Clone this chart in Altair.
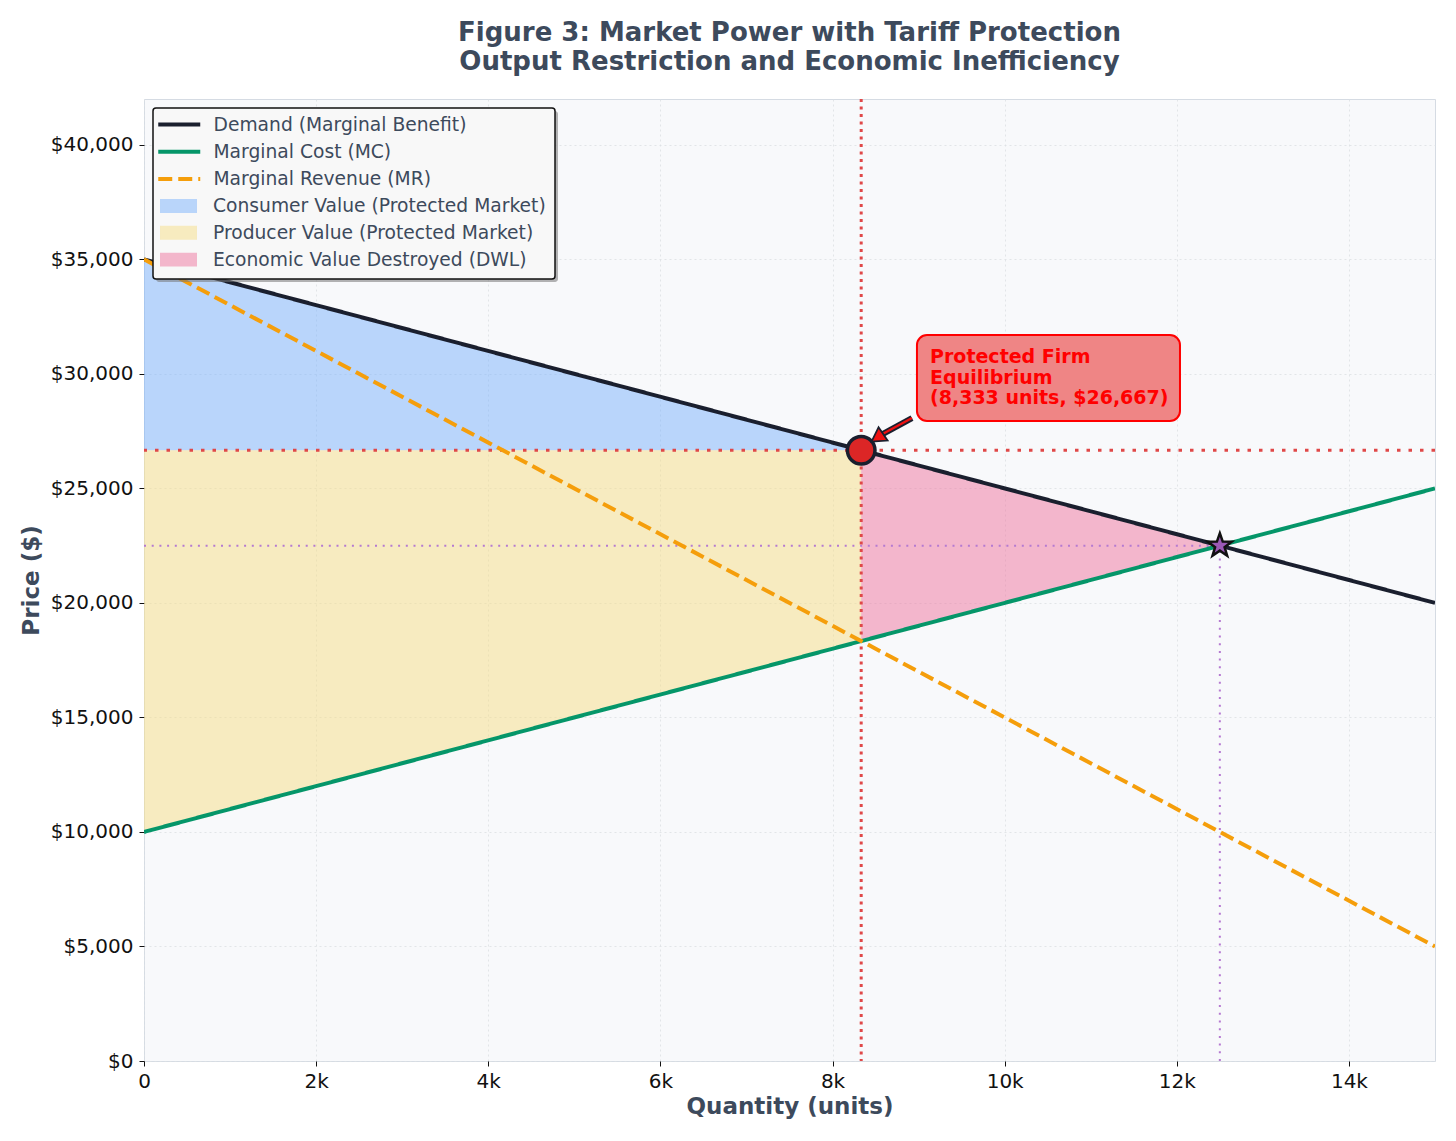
import altair as alt
import pandas as pd

# Linear market model (price in $, quantity in units)
q_ends = [0, 15000]
demand_ends = [35000, 20000]
mc_ends = [10000, 25000]
mr_ends = [35000, 5000]

q_mono, p_mono, mc_at_mono = 8333, 26667, 18333
q_comp, p_comp = 12500, 22500

line_names = ["Demand (Marginal Benefit)", "Marginal Cost (MC)", "Marginal Revenue (MR)"]
line_colors = ["#1a1f2e", "#059669", "#f59e0b"]
line_dashes = [[1, 0], [1, 0], [14, 6]]

area_names = [
    "Consumer Value (Protected Market)",
    "Producer Value (Protected Market)",
    "Economic Value Destroyed (DWL)",
]
area_colors = ["#7ab1fb", "#f6dd85", "#ee739d"]

# Shaded regions: quantity span with upper and lower price bounds
cs_q = [0, q_mono]
cs_top = [35000, p_mono]
cs_bot = [p_mono, p_mono]
ps_q = [0, q_mono]
ps_top = [p_mono, p_mono]
ps_bot = [10000, mc_at_mono]
dwl_q = [q_mono, q_comp]
dwl_top = [p_mono, p_comp]
dwl_bot = [mc_at_mono, p_comp]

x_ticks = [0, 2000, 4000, 6000, 8000, 10000, 12000, 14000]
y_ticks = [0, 5000, 10000, 15000, 20000, 25000, 30000, 35000, 40000]

note_lines = ["Protected Firm", "Equilibrium", "(8,333 units, $26,667)"]

FONT = "DejaVu Sans"
SLATE = "#3d4a5c"
W, H = 1291, 962

STAR = ("M0,-1L0.235,-0.324L0.951,-0.309L0.380,0.124L0.588,0.809L0,0.4"
        "L-0.588,0.809L-0.380,0.124L-0.951,-0.309L-0.235,-0.324Z")

lines_df = pd.DataFrame({
    "q": q_ends * 3,
    "p": demand_ends + mc_ends + mr_ends,
    "series": [line_names[0]] * 2 + [line_names[1]] * 2 + [line_names[2]] * 2,
})

areas_df = pd.DataFrame({
    "q": cs_q + ps_q + dwl_q,
    "top": cs_top + ps_top + dwl_top,
    "bot": cs_bot + ps_bot + dwl_bot,
    "region": [area_names[0]] * 2 + [area_names[1]] * 2 + [area_names[2]] * 2,
})

x_scale = alt.Scale(domain=[0, 15000], nice=False, zero=False)
y_scale = alt.Scale(domain=[0, 42000], nice=False)

x_axis = alt.Axis(
    values=x_ticks,
    labelExpr="datum.value == 0 ? '0' : (datum.value / 1000) + 'k'",
    title="Quantity (units)",
)
y_axis = alt.Axis(values=y_ticks, format="$,.0f", title="Price ($)")

areas = alt.Chart(areas_df).mark_area(opacity=0.5).encode(
    x=alt.X("q:Q", scale=x_scale, axis=x_axis),
    y=alt.Y("top:Q", scale=y_scale, axis=y_axis),
    y2="bot:Q",
    fill=alt.Fill(
        "region:N",
        scale=alt.Scale(domain=area_names, range=area_colors),
        legend=alt.Legend(
            title=None, orient="none", legendX=24, legendY=96.5,
            symbolType="M-1.76,-0.66H1.76V0.66H-1.76Z", symbolSize=441,
            symbolStrokeWidth=0, labelFont=FONT, labelFontSize=18.7,
            labelColor=SLATE, rowPadding=5.8, labelOffset=24, padding=0,
            labelLimit=0,
        ),
    ),
)

one = pd.DataFrame({"k": [0]})

red_v = alt.Chart(pd.DataFrame({"q": [q_mono]})).mark_rule(
    color="#e04848", strokeWidth=3, strokeDash=[3, 4.5]
).encode(x="q:Q")
red_h = alt.Chart(pd.DataFrame({"p": [p_mono]})).mark_rule(
    color="#e04848", strokeWidth=3, strokeDash=[3.5, 8]
).encode(y="p:Q")
purple_h = alt.Chart(pd.DataFrame({"q0": [0], "q1": [q_comp], "p": [p_comp]})).mark_rule(
    color="#b57ad1", strokeWidth=2, strokeDash=[2, 5.7]
).encode(x="q0:Q", x2="q1:Q", y="p:Q")
purple_v = alt.Chart(pd.DataFrame({"q": [q_comp], "p0": [0], "p1": [p_comp]})).mark_rule(
    color="#b57ad1", strokeWidth=2, strokeDash=[2, 5.7]
).encode(x="q:Q", y="p0:Q", y2="p1:Q")

line_legend = alt.Legend(
    title=None, orient="none", legendX=22.75, legendY=13,
    symbolType="M-2,0H2", symbolSize=441, symbolStrokeWidth=4,
    labelFont=FONT, labelFontSize=18.7, labelColor=SLATE,
    rowPadding=4.3, labelOffset=21.75, padding=0, labelLimit=0,
)

lines = alt.Chart(lines_df).mark_line(strokeWidth=4, clip=True).encode(
    x="q:Q",
    y="p:Q",
    stroke=alt.Stroke(
        "series:N",
        scale=alt.Scale(domain=line_names, range=line_colors),
        legend=line_legend,
    ),
    strokeDash=alt.StrokeDash(
        "series:N",
        scale=alt.Scale(domain=line_names, range=line_dashes),
        legend=line_legend,
    ),
    detail="series:N",
)

mono_pt = alt.Chart(pd.DataFrame({"q": [q_mono], "p": [p_mono]})).mark_point(
    shape="circle", size=760, filled=True, fill="#dc2626", stroke="#1a1f2e",
    strokeWidth=3.5, opacity=1,
).encode(x="q:Q", y="p:Q")

comp_pt = alt.Chart(pd.DataFrame({"q": [q_comp], "p": [p_comp]})).mark_point(
    shape=STAR, size=620, filled=True, fill="#9b59b6", stroke="#111111",
    strokeWidth=2.5, opacity=1,
).encode(x="q:Q", y="p:Q")

# Callout for the protected-firm equilibrium
note_box = alt.Chart(pd.DataFrame({
    "x0": [8981], "x1": [12037], "y0": [27942], "y1": [31697]
})).mark_rect(
    fill="#ef8585", stroke="#ff0000", strokeWidth=2, cornerRadius=10
).encode(x="x0:Q", x2="x1:Q", y="y0:Q", y2="y1:Q")

note_text = alt.Chart(pd.DataFrame({
    "x": [9133] * 3, "y": [30736, 29819, 28946], "t": note_lines
})).mark_text(
    align="left", baseline="middle", font=FONT, fontSize=19,
    fontWeight="bold", color="#ff0000"
).encode(x="x:Q", y="y:Q", text="t:N")

arrow_df = pd.DataFrame({"x0": [8923], "y0": [28072], "x1": [8560], "y1": [27330]})
arrow_edge = alt.Chart(arrow_df).mark_rule(color="#1a1f2e", strokeWidth=6).encode(
    x="x0:Q", y="y0:Q", x2="x1:Q", y2="y1:Q")
arrow_core = alt.Chart(arrow_df).mark_rule(color="#ee1111", strokeWidth=2.5).encode(
    x="x0:Q", y="y0:Q", x2="x1:Q", y2="y1:Q")
arrow_head = alt.Chart(pd.DataFrame({"x": [8520], "y": [27210]})).mark_point(
    shape="triangle-up", size=260, filled=True, fill="#ee1111", stroke="#1a1f2e",
    strokeWidth=1.8, angle=236, opacity=1,
).encode(x="x:Q", y="y:Q")

# Frame behind the legend entries
legend_shadow = alt.Chart(one).mark_rect(color="#777777", opacity=0.55, cornerRadius=3).encode(
    x=alt.value(12), x2=alt.value(414), y=alt.value(12), y2=alt.value(183))
legend_frame = alt.Chart(one).mark_rect(
    color="#f8f8f8", stroke="#111111", strokeWidth=1.5, cornerRadius=3
).encode(x=alt.value(9), x2=alt.value(411), y=alt.value(9), y2=alt.value(180))

chart = alt.layer(
    areas, red_v, red_h, purple_h, purple_v, lines, mono_pt, comp_pt,
    note_box, note_text, arrow_edge, arrow_core, arrow_head,
    legend_shadow, legend_frame,
).properties(
    width=W, height=H,
    autosize=alt.AutoSizeParams(type="none"),
    padding={"left": 144, "top": 99, "right": 21, "bottom": 80},
    title=alt.Title(
        ["Figure 3: Market Power with Tariff Protection",
         "Output Restriction and Economic Inefficiency"],
        font=FONT, fontSize=26, fontWeight="bold", color=SLATE,
        anchor="middle", offset=23, lineHeight=29,
    ),
    background="white",
).configure_view(
    fill="#f8f9fb", stroke="#d5dbe3", strokeWidth=1
).configure_axis(
    labelFont=FONT, labelFontSize=20, labelColor="#111111", labelFlush=False,
    titleFont=FONT, titleFontSize=23, titleFontWeight="bold", titleColor=SLATE,
    tickColor="#111111", tickSize=5, tickWidth=1, domain=False,
    grid=True, gridColor="#dcdfe3", gridDash=[2, 3], gridWidth=0.8,
    labelPadding=3,
).configure_axisX(titlePadding=4, labelPadding=5).configure_axisY(
    titlePadding=7, labelPadding=6
)

chart.save("out.html", embed_options={"renderer": "svg", "actions": False})
